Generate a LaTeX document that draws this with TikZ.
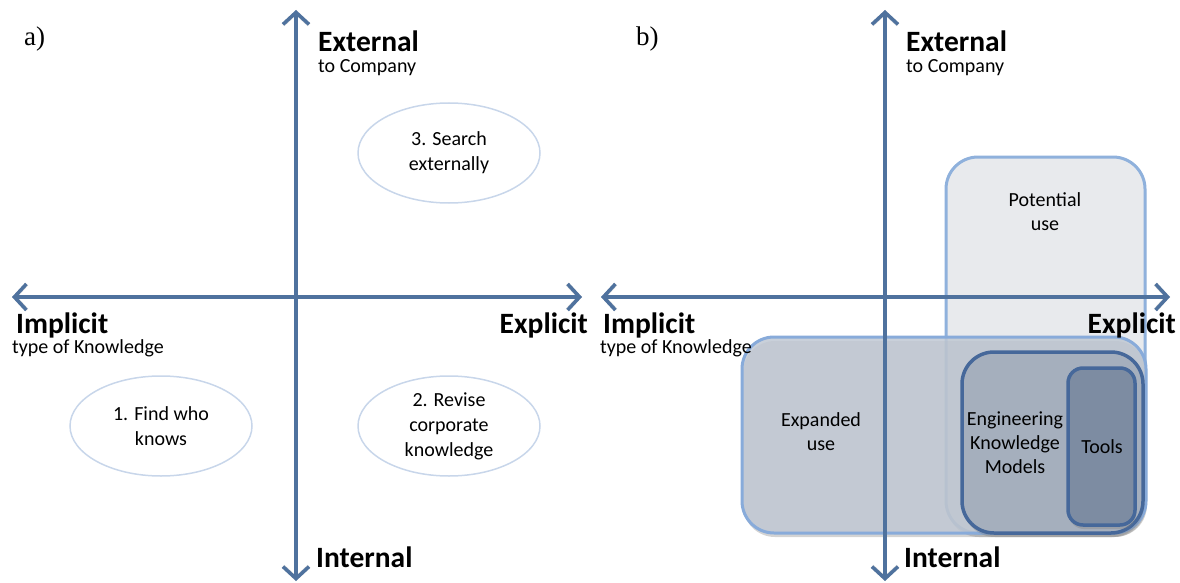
\documentclass[tikz,border=0pt]{standalone}
\usepackage{fontspec}
\setmainfont{Carlito}
\newfontfamily\panelfont{Liberation Serif}
\usetikzlibrary{arrows.meta,shapes.geometric,shadows}

\definecolor{axisblue}{RGB}{79,114,158}
\definecolor{ellblue}{RGB}{200,214,234}
\definecolor{potfill}{RGB}{232,234,237}
\definecolor{potline}{RGB}{143,177,220}
\definecolor{expfill}{RGB}{192,200,211}
\definecolor{expline}{RGB}{136,171,218}
\definecolor{engfill}{RGB}{165,175,189}
\definecolor{toolfill}{RGB}{125,140,162}
\definecolor{darkline}{RGB}{70,104,154}

\tikzset{
  axis/.style={axisblue, line width=3.5pt,
    {Straight Barb[length=12pt,width=26pt]}-{Straight Barb[length=12pt,width=26pt]}},
  axisshade/.style={black!45, opacity=0.3, line width=4pt, shift={(2,4)},
    {Straight Barb[length=12pt,width=26pt]}-{Straight Barb[length=12pt,width=26pt]}},
  bigname/.style={font=\fontsize{29.5}{34}\selectfont\bfseries, inner sep=0pt},
  smallname/.style={font=\fontsize{20}{24}\selectfont, inner sep=0pt},
  panel/.style={font=\panelfont\fontsize{27}{32}\selectfont, inner sep=0pt},
  quad/.style={ellipse, draw=ellblue, line width=1.5pt, minimum width=182pt,
    minimum height=100pt, inner sep=0pt, align=center,
    font=\fontsize{20}{25}\selectfont},
  usebox/.style={rectangle, rounded corners=32pt, line width=3pt,
    drop shadow={shadow xshift=1pt, shadow yshift=-4pt, opacity=.35}},
  boxtext/.style={align=center, inner sep=0pt, font=\fontsize{20}{24}\selectfont}
}

\begin{document}
\begin{tikzpicture}[x=1pt, y=-1pt]
\useasboundingbox (0,0) rectangle (1180,583);

% panel a
\coordinate (aTop) at (296,10);
\coordinate (aBot) at (296,581);
\coordinate (aLeft) at (12,297);
\coordinate (aRight) at (582,297);
\draw[axisshade] (aLeft) -- (aRight);
\draw[axisshade] (aBot) -- (aTop);
\draw[axis] (aLeft) -- (aRight);
\draw[axis] (aBot) -- (aTop);

\node[panel, anchor=base west] (aLbl) at (24,46) {a)};
\node[bigname, anchor=base west] (aExt) at (318,52) {External};
\node[smallname, anchor=base west] (aExtSub) at (318,73) {to Company};
\node[bigname, anchor=base west] (aImp) at (16,333) {Implicit};
\node[smallname, anchor=base west] (aImpSub) at (12,353) {type of Knowledge};
\node[bigname, anchor=base east] (aExp) at (588,333) {Explicit};
\node[bigname, anchor=base west] (aInt) at (316,567) {Internal};

\node[quad] (search) at (449,153) {3. Search\\externally};
\node[quad] (findwho) at (161,426) {1. Find who\\knows};
\node[quad] (revise) at (449,426) {2. Revise\\corporate\\knowledge};

% panel b
\node[usebox, fill=potfill, draw=potline, minimum width=199pt, minimum height=376pt] (potBox) at (1045.5,345) {};
\node[usebox, fill=expfill, fill opacity=.85, draw=expline, minimum width=404pt, minimum height=196pt] (expBox) at (944,435) {};
\node[usebox, fill=engfill, draw=darkline, line width=3.5pt, minimum width=181pt, minimum height=181pt] (engBox) at (1052.5,442.5) {};
\node[usebox, rounded corners=15pt, fill=toolfill, draw=darkline, line width=3.5pt, minimum width=67pt, minimum height=157pt] (toolBox) at (1101.5,446.5) {};

\node[boxtext] (potText) at (1045,212) {Potential\\use};
\node[boxtext] (expText) at (821,432) {Expanded\\use};
\node[boxtext] (engText) at (1015,443) {Engineering\\Knowledge\\Models};
\node[boxtext] (toolText) at (1102,447) {Tools};

\coordinate (bTop) at (885,10);
\coordinate (bBot) at (885,581);
\coordinate (bLeft) at (601,297);
\coordinate (bRight) at (1170,297);
\draw[axisshade] (bLeft) -- (bRight);
\draw[axisshade] (bBot) -- (bTop);
\draw[axis] (bLeft) -- (bRight);
\draw[axis] (bBot) -- (bTop);

\node[panel, anchor=base west] (bLbl) at (636,46) {b)};
\node[bigname, anchor=base west] (bExt) at (906,52) {External};
\node[smallname, anchor=base west] (bExtSub) at (906,73) {to Company};
\node[bigname, anchor=base west] (bImp) at (603,333) {Implicit};
\node[smallname, anchor=base west] (bImpSub) at (600,353) {type of Knowledge};
\node[bigname, anchor=base east] (bExp) at (1176,333) {Explicit};
\node[bigname, anchor=base west] (bInt) at (904,567) {Internal};
\end{tikzpicture}
\end{document}
